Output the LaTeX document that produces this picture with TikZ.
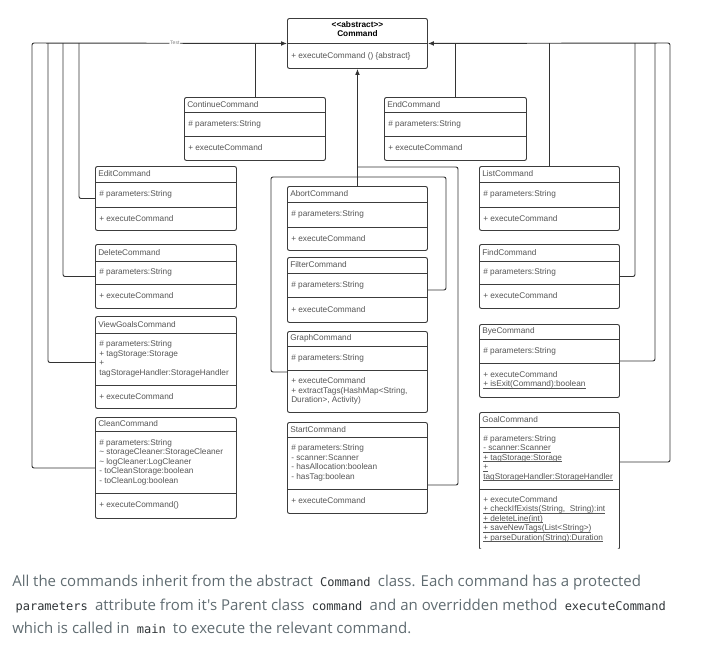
\documentclass[tikz,border=0pt]{standalone}
\usepackage{fontspec}
\usepackage{tikz}
\usetikzlibrary{arrows.meta,calc}

\newfontfamily\umlfont{Liberation Sans}
\newfontfamily\capfont{Open Sans}
\newfontfamily\codefont{DejaVu Sans Mono}

\definecolor{boxline}{HTML}{3C3C3C}
\definecolor{connline}{HTML}{333333}
\definecolor{membergray}{HTML}{555555}
\definecolor{captext}{HTML}{606C71}
\definecolor{codetext}{HTML}{2F3437}

\tikzset{
  classbox/.style={draw=boxline, line width=0.7pt, rounded corners=1.5pt, fill=white, inner sep=0pt, anchor=north west},
  divline/.style={draw=boxline, line width=0.7pt},
  member/.style={anchor=west, inner sep=0pt, align=left, text=membergray, font=\umlfont\fontsize{6.2}{7.1}\selectfont},
  abstitle/.style={inner sep=0pt, align=center, text=black, font=\umlfont\bfseries\fontsize{6.2}{6.8}\selectfont},
  conn/.style={draw=connline, line width=0.7pt, rounded corners=1.5pt},
  inherit/.style={conn, -{Latex[length=4.5pt,width=3.6pt]}},
  testlbl/.style={fill=white, inner sep=0.5pt, text=gray, font=\umlfont\fontsize{3.8}{4}\selectfont},
  caption/.style={anchor=north west, inner sep=0pt, align=left, text=captext, font=\capfont\fontsize{11.25}{17.6}\selectfont}
}

% name, top left, width, height, first divider, second divider, title, attributes, methods
\newcommand{\umlclass}[9]{%
  \node[classbox, minimum width=#3*0.75pt, minimum height=#4*0.75pt] (#1) at #2 {};
  \draw[divline] ($(#1.north west)+(0,#5)$) -- ($(#1.north east)+(0,#5)$);
  \draw[divline] ($(#1.north west)+(0,#6)$) -- ($(#1.north east)+(0,#6)$);
  \node[member] (#1-title) at ($(#1.north west)+(3,#5/2)$) {#7};
  \node[member] (#1-attr) at ($(#1.north west)+(4,#5/2+#6/2)$) {#8};
  \node[member] (#1-meth) at ($(#1.north west)+(4,#6/2+#4/2)$) {#9};
}
% static members
\newcommand{\stat}[1]{\setbox0\hbox{#1}\rlap{\raisebox{-1.1pt}{\rule{\wd0}{0.35pt}}}\box0}
\newcommand{\code}[1]{\hspace{2.5pt}{\codefont\fontsize{9}{10}\selectfont\color{codetext}#1}\hspace{2.5pt}}

\begin{document}
\begin{tikzpicture}[x=0.75pt,y=0.75pt,yscale=-1,xscale=1]
\useasboundingbox (0,0) rectangle (724,669);

\begin{scope}
\clip (0,0) rectangle (724,548.5);

%Shape: abstract class
\node[classbox, minimum width=140*0.75pt, minimum height=50*0.75pt] (cmd) at (287,18) {};
\draw[divline] (cmd.west) -- (cmd.east);
\node[abstitle] (cmd-title) at ($(cmd.north)+(0,11)$) {<\kern0pt<abstract>\kern0pt>\\Command};
\node[member] (cmd-meth) at ($(cmd.west)+(4,12.5)$) {+ executeCommand () \{abstract\}};

%Shape: upper row
\umlclass{cont}{(184,97)}{141}{63}{15}{39}{ContinueCommand}{\# parameters:String}{+ executeCommand}
\umlclass{endcmd}{(384,97)}{142}{63}{15}{39}{EndCommand}{\# parameters:String}{+ executeCommand}

%Shape: left column
\umlclass{edit}{(95,166)}{141}{64}{16}{41}{EditCommand}{\# parameters:String}{+ executeCommand}
\umlclass{delete}{(95,244)}{141}{64}{17}{40}{DeleteCommand}{\# parameters:String}{+ executeCommand}
\umlclass{viewgoals}{(95,316)}{141}{92}{17}{69}{ViewGoalsCommand}{\# parameters:String\\+ tagStorage:Storage\\+\\tagStorageHandler:StorageHandler}{+ executeCommand}
\umlclass{clean}{(95,417)}{141}{101}{14}{76}{CleanCommand}{\# parameters:String\\\textasciitilde{} storageCleaner:StorageCleaner\\\textasciitilde{} logCleaner:LogCleaner\\- toCleanStorage:boolean\\- toCleanLog:boolean}{+ executeCommand()}

%Shape: middle column
\umlclass{abort}{(287,186)}{140}{64}{16}{41}{AbortCommand}{\# parameters:String}{+ executeCommand}
\umlclass{filter}{(287,257)}{140}{65}{16}{40}{FilterCommand}{\# parameters:String}{+ executeCommand}
\umlclass{graph}{(287,331)}{140}{81}{15}{39}{GraphCommand}{\# parameters:String}{+ executeCommand\\+ extractTags(HashMap<String,\\Duration>, Activity)}
\umlclass{start}{(287,422)}{140}{91}{15}{67}{StartCommand}{\# parameters:String\\- scanner:Scanner\\- hasAllocation:boolean\\- hasTag:boolean}{+ executeCommand}

%Shape: right column
\umlclass{list}{(479,166)}{140}{64}{16}{41}{ListCommand}{\# parameters:String}{+ executeCommand}
\umlclass{find}{(479,244)}{140}{64}{17}{40}{FindCommand}{\# parameters:String}{+ executeCommand}
\umlclass{bye}{(479,324)}{140}{73}{15}{39}{ByeCommand}{\# parameters:String}{+ executeCommand\\\stat{+ isExit(Command):boolean}}
\umlclass{goal}{(479,412)}{140}{137}{15}{77}{GoalCommand}{\# parameters:String\\\stat{- scanner:Scanner}\\\stat{+ tagStorage:Storage}\\\stat{+}\\\stat{tagStorageHandler:StorageHandler}}{+ executeCommand\\\stat{+ checkIfExists(String,\ \ String):int}\\\stat{+ deleteLine(int)}\\\stat{+ saveNewTags(List<String>)}\\\stat{+ parseDuration(String):Duration}}

%Lines: left bus
\coordinate (busA) at (32,43);
\coordinate (busB) at (48,43);
\coordinate (busC) at (63,43);
\coordinate (busD) at (79,43);
\draw[inherit] (clean.west) -| (busA) -- node[testlbl, pos=0.56] {Test} (cmd.west);
\draw[conn] (viewgoals.west) -| (busB);
\draw[conn] (delete.west) -| (busC);
\draw[conn] (edit.west) -| (busD);
\draw[conn] (cont.north) -- (cont.north |- cmd.west);

%Lines: right bus
\coordinate (busE) at (635,43);
\coordinate (busF) at (655,43);
\coordinate (busG) at (670,43);
\coordinate (goalport) at ($(goal.north east)+(0,50)$);
\draw[inherit] (goalport) -| (busG) -- (cmd.east);
\draw[conn] (bye.east) -| (busF);
\draw[conn] (find.east) -| (busE);
\draw[conn] (list.north) -- (list.north |- cmd.east);
\draw[conn] (endcmd.north) -- (endcmd.north |- cmd.east);

%Lines: middle trunk
\coordinate (forkA) at (357,177);
\coordinate (forkB) at (357,167);
\coordinate (laneL) at (271,177);
\coordinate (laneR) at (446,177);
\coordinate (laneS) at (458,167);
\coordinate (startport) at ($(start.north east)+(0,63)$);
\draw[inherit] (abort.north) -- (cmd.south);
\draw[conn] (graph.west) -| (laneL) -- (forkA);
\draw[conn] (filter.east) -| (laneR) -- (forkA);
\draw[conn] (startport) -| (laneS) -- (forkB);
\end{scope}

% Text Node
\node[caption] (caption) at (12,575) {All the commands inherit from the abstract \code{Command} class. Each command has a protected\\
\code{parameters} attribute from it's Parent class \code{command} and an overridden method \code{executeCommand}\\
which is called in \code{main} to execute the relevant command.};
\end{tikzpicture}
\end{document}
